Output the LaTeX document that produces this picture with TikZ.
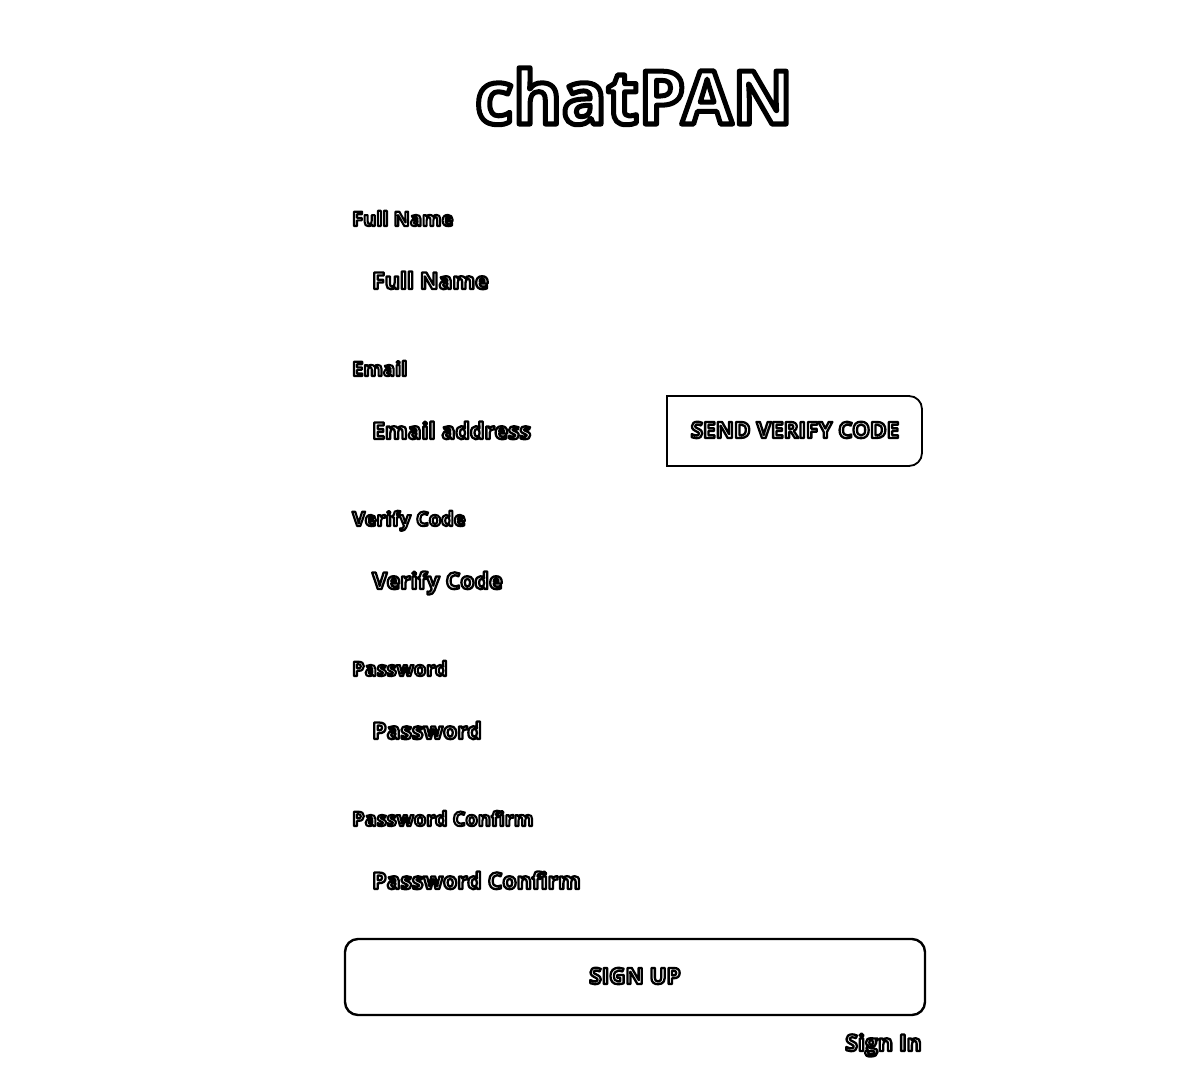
\documentclass[tikz,border=0pt]{standalone}
\usepackage{fontspec}
\setmainfont{Open Sans}
\newcommand{\halo}[2]{\special{pdf:literal direct 2 Tr #1 w 1 j 0 0 0 RG}#2\special{pdf:literal direct 0 Tr}}
\tikzset{
  lbl/.style={anchor=base west, inner sep=0pt, text=white, font=\fontsize{20}{24}\selectfont\bfseries},
  ph/.style={anchor=base west, inner sep=0pt, text=white, font=\fontsize{23}{28}\selectfont\bfseries},
  btn/.style={draw=black, line width=2.4pt},
  btxt/.style={inner sep=0pt, text=white, font=\fontsize{22.5}{27}\selectfont\bfseries}
}
\begin{document}
\begin{tikzpicture}[x=1pt,y=-1pt]
\useasboundingbox (0,0) rectangle (1203,1073);
\fill[white] (0,0) rectangle (1203,1073);
\node[anchor=base, inner sep=0pt, text=white, font=\fontsize{74}{88}\selectfont\bfseries] (title) at (634,124) {\halo{5}{chatPAN}};
\node[lbl] (l1) at (352,226) {\halo{2.1}{Full Name}};
\node[ph] (p1) at (372,289) {\halo{2.3}{Full Name}};
\node[lbl] (l2) at (352,376) {\halo{2.1}{Email}};
\node[ph] (p2) at (372,439) {\halo{2.3}{Email address}};
\node[lbl] (l3) at (352,526) {\halo{2.1}{Verify Code}};
\node[ph] (p3) at (372,589) {\halo{2.3}{Verify Code}};
\node[lbl] (l4) at (352,676) {\halo{2.1}{Password}};
\node[ph] (p4) at (372,739) {\halo{2.3}{Password}};
\node[lbl] (l5) at (352,826) {\halo{2.1}{Password Confirm}};
\node[ph] (p5) at (372,889) {\halo{2.3}{Password Confirm}};
\draw[btn, line width=1.8pt] (667,466) -- (667,396) [rounded corners=13pt] -- (922,396) -- (922,466) [sharp corners] -- cycle;
\node[btxt, anchor=base] (send) at (795,438) {\halo{2.3}{SEND VERIFY CODE}};
\draw[btn, rounded corners=13pt] (345,939) rectangle (925,1015);
\node[btxt, anchor=base] (signup) at (635,984) {\halo{2.3}{SIGN UP}};
\node[ph, anchor=base east] (signin) at (922,1051) {\halo{2.3}{Sign In}};
\end{tikzpicture}
\end{document}
